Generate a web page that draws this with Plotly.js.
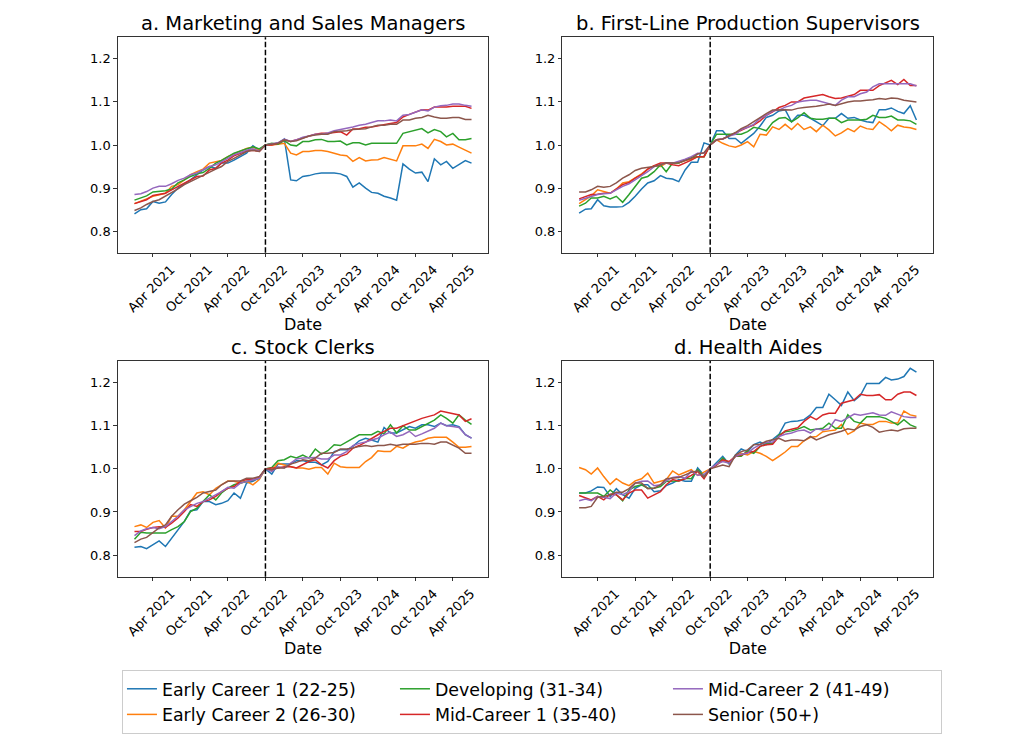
<!DOCTYPE html>
<html>
<head>
<meta charset="utf-8">
<script src="https://cdn.plot.ly/plotly-3.0.1.min.js"></script>
<style>html,body{margin:0;padding:0;background:#fff;}#chart{width:1024px;height:744px;}</style>
</head>
<body>
<div id="chart"></div>
<script>
const months = ['2021-01-01','2021-02-01','2021-03-01','2021-04-01','2021-05-01','2021-06-01','2021-07-01','2021-08-01','2021-09-01','2021-10-01','2021-11-01','2021-12-01',
'2022-01-01','2022-02-01','2022-03-01','2022-04-01','2022-05-01','2022-06-01','2022-07-01','2022-08-01','2022-09-01','2022-10-01','2022-11-01','2022-12-01',
'2023-01-01','2023-02-01','2023-03-01','2023-04-01','2023-05-01','2023-06-01','2023-07-01','2023-08-01','2023-09-01','2023-10-01','2023-11-01','2023-12-01',
'2024-01-01','2024-02-01','2024-03-01','2024-04-01','2024-05-01','2024-06-01','2024-07-01','2024-08-01','2024-09-01','2024-10-01','2024-11-01','2024-12-01',
'2025-01-01','2025-02-01','2025-03-01','2025-04-01','2025-05-01','2025-06-01','2025-07-01'];

const groupNames = ['Early Career 1 (22-25)','Early Career 2 (26-30)','Developing (31-34)','Mid-Career 1 (35-40)','Mid-Career 2 (41-49)','Senior (50+)'];
const panelTitles = ['a. Marketing and Sales Managers','b. First-Line Production Supervisors','c. Stock Clerks','d. Health Aides'];
const tickVals = ['2021-04-01','2021-10-01','2022-04-01','2022-10-01','2023-04-01','2023-10-01','2024-04-01','2024-10-01','2025-04-01'];
const tickText = ['Apr 2021','Oct 2021','Apr 2022','Oct 2022','Apr 2023','Oct 2023','Apr 2024','Oct 2024','Apr 2025'];
const yTicks = [0.8, 0.9, 1.0, 1.1, 1.2];
const cutoffDate = '2022-10-01';

// a. Marketing and Sales Managers
const mkt_ec1 = [0.840,0.850,0.852,0.869,0.865,0.868,0.885,0.900,0.910,0.919,0.931,0.942,0.950,0.946,0.959,0.958,0.965,0.973,0.981,0.998,0.988,1.000,1.002,1.004,1.014,0.919,0.917,0.927,0.929,0.933,0.935,0.935,0.935,0.933,0.927,0.902,0.912,0.900,0.890,0.888,0.881,0.877,0.872,0.956,0.944,0.935,0.937,0.915,0.968,0.954,0.962,0.946,0.954,0.964,0.958];
const mkt_ec2 = [0.864,0.869,0.875,0.881,0.885,0.888,0.904,0.908,0.919,0.931,0.938,0.944,0.958,0.962,0.964,0.973,0.979,0.985,0.992,0.995,0.988,1.000,1.000,1.002,1.004,0.981,0.977,0.985,0.985,0.987,0.987,0.985,0.981,0.977,0.975,0.962,0.971,0.963,0.965,0.966,0.971,0.966,0.963,0.998,0.998,0.998,1.002,0.992,1.013,1.008,1.000,1.002,0.995,0.987,0.981];
const mkt_dev = [0.872,0.877,0.882,0.891,0.892,0.894,0.898,0.912,0.919,0.927,0.933,0.936,0.946,0.958,0.964,0.973,0.981,0.986,0.991,0.996,0.991,1.000,1.004,1.002,1.010,1.000,0.998,1.008,1.008,1.012,1.013,1.008,1.008,1.009,1.000,1.005,1.005,1.000,1.004,1.004,1.005,1.004,1.004,1.027,1.031,1.035,1.038,1.028,1.036,1.031,1.019,1.027,1.012,1.012,1.015];
const mkt_mc1 = [0.864,0.869,0.873,0.883,0.885,0.888,0.896,0.904,0.912,0.919,0.927,0.928,0.942,0.946,0.958,0.965,0.975,0.981,0.986,0.988,0.985,1.000,1.000,1.004,1.012,1.008,1.012,1.015,1.021,1.025,1.027,1.027,1.029,1.031,1.023,1.037,1.038,1.041,1.042,1.045,1.048,1.050,1.052,1.065,1.071,1.077,1.082,1.081,1.088,1.088,1.088,1.090,1.090,1.090,1.085];
const mkt_mc2 = [0.885,0.887,0.892,0.900,0.904,0.904,0.910,0.918,0.923,0.931,0.935,0.942,0.950,0.954,0.962,0.969,0.977,0.983,0.988,0.991,0.986,1.000,1.002,1.005,1.014,1.008,1.012,1.018,1.021,1.025,1.025,1.028,1.033,1.036,1.038,1.042,1.046,1.048,1.052,1.056,1.056,1.058,1.056,1.069,1.071,1.077,1.082,1.079,1.088,1.091,1.092,1.095,1.095,1.092,1.090];
const mkt_sen = [0.848,0.854,0.862,0.869,0.873,0.881,0.888,0.898,0.908,0.915,0.923,0.931,0.938,0.944,0.950,0.962,0.969,0.977,0.985,0.988,0.985,1.000,1.002,1.004,1.012,1.008,1.010,1.015,1.021,1.023,1.025,1.025,1.031,1.032,1.033,1.036,1.037,1.038,1.042,1.046,1.046,1.048,1.048,1.058,1.058,1.062,1.064,1.069,1.065,1.062,1.062,1.064,1.064,1.059,1.059];

// b. First-Line Production Supervisors
const sup_ec1 = [0.842,0.851,0.852,0.873,0.859,0.856,0.856,0.857,0.867,0.881,0.898,0.912,0.917,0.929,0.923,0.921,0.915,0.942,0.960,0.960,1.005,1.000,1.033,1.033,1.015,1.015,1.004,1.015,1.027,1.044,1.064,1.069,1.079,1.082,1.054,1.069,1.069,1.062,1.054,1.045,1.062,1.062,1.073,1.062,1.064,1.058,1.054,1.052,1.082,1.082,1.086,1.078,1.073,1.091,1.058];
const sup_ec2 = [0.864,0.873,0.882,0.896,0.892,0.888,0.898,0.912,0.915,0.923,0.933,0.944,0.952,0.950,0.958,0.958,0.959,0.964,0.967,0.973,0.973,1.000,1.012,1.004,0.998,0.995,1.000,1.008,0.996,1.025,1.023,1.042,1.036,1.048,1.036,1.050,1.036,1.042,1.031,1.046,1.035,1.021,1.028,1.038,1.031,1.044,1.038,1.036,1.054,1.044,1.033,1.046,1.042,1.040,1.036];
const sup_dev = [0.858,0.865,0.877,0.877,0.881,0.875,0.881,0.867,0.885,0.904,0.923,0.927,0.938,0.954,0.938,0.958,0.958,0.965,0.971,0.973,0.973,1.000,1.025,1.025,1.025,1.025,1.025,1.031,1.041,1.038,1.033,1.052,1.062,1.064,1.054,1.063,1.075,1.062,1.060,1.060,1.062,1.062,1.052,1.058,1.058,1.058,1.060,1.069,1.064,1.064,1.067,1.058,1.058,1.056,1.048];
const sup_mc1 = [0.875,0.881,0.885,0.886,0.888,0.888,0.898,0.908,0.913,0.923,0.931,0.944,0.952,0.958,0.958,0.954,0.952,0.958,0.965,0.973,0.973,1.000,1.012,1.014,1.021,1.027,1.035,1.041,1.046,1.056,1.069,1.077,1.087,1.092,1.100,1.100,1.109,1.112,1.114,1.117,1.112,1.108,1.109,1.113,1.117,1.127,1.127,1.127,1.138,1.145,1.150,1.140,1.152,1.138,1.138];
const sup_mc2 = [0.872,0.877,0.881,0.885,0.887,0.888,0.896,0.904,0.910,0.919,0.927,0.938,0.950,0.954,0.958,0.958,0.962,0.967,0.973,0.981,0.981,1.000,1.012,1.014,1.021,1.025,1.036,1.041,1.048,1.062,1.069,1.079,1.081,1.088,1.092,1.100,1.102,1.104,1.104,1.100,1.096,1.092,1.104,1.112,1.112,1.119,1.123,1.135,1.142,1.142,1.142,1.142,1.142,1.142,1.137];
const sup_sen = [0.891,0.891,0.896,0.904,0.902,0.904,0.912,0.923,0.931,0.941,0.946,0.948,0.950,0.954,0.959,0.958,0.959,0.964,0.969,0.979,0.982,1.000,1.012,1.014,1.021,1.029,1.038,1.045,1.054,1.064,1.073,1.081,1.082,1.082,1.081,1.085,1.087,1.088,1.090,1.092,1.095,1.092,1.096,1.100,1.102,1.102,1.104,1.105,1.108,1.106,1.109,1.108,1.104,1.102,1.100];

// c. Stock Clerks
const clk_ec1 = [0.818,0.820,0.815,0.824,0.833,0.820,0.839,0.859,0.878,0.903,0.905,0.924,0.924,0.917,0.920,0.926,0.944,0.932,0.967,0.971,0.979,1.000,0.988,1.011,1.011,1.011,1.019,1.019,1.015,1.015,1.009,1.017,1.040,1.044,1.044,1.052,1.065,1.071,1.067,1.062,1.096,1.083,1.083,1.090,1.098,1.094,1.102,1.102,1.098,1.106,1.100,1.102,1.098,1.079,1.071];
const clk_ec2 = [0.866,0.870,0.864,0.876,0.880,0.863,0.890,0.890,0.905,0.924,0.944,0.947,0.940,0.955,0.963,0.972,0.971,0.967,0.971,0.963,0.975,1.000,0.996,1.013,1.009,1.005,1.002,1.002,0.999,1.003,1.003,0.988,1.013,1.005,1.003,1.003,1.003,1.017,1.026,1.042,1.040,1.040,1.052,1.048,1.057,1.062,1.065,1.071,1.073,1.073,1.073,1.062,1.050,1.050,1.052];
const clk_dev = [0.837,0.853,0.851,0.851,0.851,0.851,0.859,0.866,0.878,0.901,0.909,0.924,0.940,0.928,0.944,0.955,0.963,0.967,0.971,0.975,0.978,1.000,1.003,1.019,1.021,1.029,1.025,1.032,1.025,1.046,1.034,1.042,1.056,1.054,1.062,1.071,1.079,1.079,1.079,1.087,1.081,1.102,1.083,1.100,1.090,1.090,1.098,1.106,1.113,1.125,1.117,1.106,1.125,1.113,1.103];
const clk_mc1 = [0.855,0.855,0.860,0.864,0.866,0.864,0.874,0.886,0.901,0.917,0.913,0.924,0.928,0.936,0.947,0.955,0.959,0.971,0.975,0.975,0.980,1.000,1.002,1.002,1.005,1.005,1.002,1.009,1.017,1.021,1.009,1.002,1.019,1.029,1.034,1.048,1.054,1.062,1.071,1.079,1.087,1.094,1.094,1.100,1.106,1.110,1.117,1.121,1.125,1.134,1.131,1.129,1.125,1.110,1.116];
const clk_mc2 = [0.845,0.856,0.861,0.864,0.861,0.866,0.878,0.890,0.905,0.913,0.920,0.924,0.932,0.940,0.947,0.957,0.955,0.967,0.971,0.975,0.978,1.000,0.994,1.005,1.002,1.013,1.023,1.025,1.025,1.026,1.023,1.023,1.032,1.032,1.040,1.054,1.059,1.062,1.067,1.071,1.079,1.085,1.075,1.079,1.087,1.075,1.081,1.087,1.094,1.106,1.100,1.098,1.096,1.079,1.071];
const clk_sen = [0.829,0.837,0.841,0.853,0.863,0.870,0.890,0.905,0.918,0.926,0.934,0.944,0.947,0.951,0.963,0.971,0.972,0.972,0.978,0.978,0.982,1.000,0.998,1.002,1.002,1.011,1.015,1.021,1.019,1.025,1.036,1.036,1.038,1.046,1.046,1.048,1.052,1.054,1.052,1.054,1.054,1.057,1.054,1.057,1.057,1.057,1.059,1.059,1.057,1.062,1.062,1.055,1.048,1.036,1.036];

// d. Health Aides
const aid_ec1 = [0.944,0.944,0.949,0.958,0.957,0.936,0.954,0.940,0.932,0.955,0.963,0.963,0.947,0.949,0.961,0.967,0.975,0.971,0.971,1.002,0.985,1.000,1.013,1.029,1.011,1.032,1.046,1.040,1.056,1.062,1.056,1.067,1.080,1.106,1.110,1.111,1.114,1.125,1.142,1.142,1.173,1.160,1.147,1.178,1.158,1.170,1.198,1.198,1.198,1.212,1.206,1.208,1.214,1.233,1.224];
const aid_ec2 = [1.003,0.998,0.988,1.002,0.982,0.964,0.977,0.967,0.961,0.972,0.977,0.990,0.967,0.972,0.975,0.995,0.986,0.992,0.998,0.985,0.992,1.000,1.009,1.019,1.015,1.029,1.036,1.032,1.040,1.036,1.029,1.019,1.029,1.039,1.052,1.052,1.065,1.073,1.075,1.086,1.088,1.090,1.103,1.080,1.088,1.106,1.103,1.103,1.110,1.110,1.106,1.106,1.134,1.125,1.122];
const aid_dev = [0.944,0.944,0.944,0.944,0.936,0.951,0.940,0.926,0.951,0.959,0.963,0.955,0.955,0.959,0.971,0.971,0.972,0.978,0.977,0.998,0.982,1.000,1.009,1.025,1.013,1.029,1.029,1.042,1.036,1.052,1.059,1.059,1.079,1.086,1.088,1.092,1.098,1.090,1.092,1.094,1.106,1.094,1.094,1.125,1.110,1.106,1.121,1.121,1.121,1.117,1.110,1.102,1.114,1.102,1.096];
const aid_mc1 = [0.938,0.932,0.928,0.936,0.928,0.941,0.940,0.928,0.944,0.951,0.951,0.932,0.940,0.947,0.963,0.975,0.972,0.977,0.985,0.994,0.977,1.000,1.009,1.021,1.017,1.029,1.032,1.038,1.040,1.052,1.056,1.057,1.075,1.088,1.092,1.095,1.110,1.121,1.114,1.125,1.129,1.129,1.152,1.156,1.160,1.173,1.170,1.170,1.172,1.160,1.160,1.173,1.178,1.178,1.170];
const aid_mc2 = [0.926,0.930,0.926,0.936,0.934,0.931,0.944,0.940,0.947,0.967,0.971,0.972,0.961,0.963,0.972,0.980,0.982,0.978,0.995,0.985,0.986,1.000,1.011,1.017,1.013,1.029,1.034,1.036,1.048,1.056,1.061,1.062,1.075,1.080,1.083,1.088,1.090,1.083,1.093,1.090,1.093,1.114,1.110,1.118,1.127,1.124,1.127,1.130,1.125,1.124,1.132,1.127,1.121,1.119,1.119];
const aid_sen = [0.910,0.910,0.913,0.934,0.936,0.940,0.946,0.946,0.954,0.967,0.967,0.954,0.955,0.963,0.977,0.978,0.980,0.986,0.992,0.995,0.980,1.000,1.005,1.009,1.005,1.032,1.040,1.044,1.056,1.057,1.064,1.067,1.071,1.064,1.067,1.067,1.065,1.075,1.067,1.073,1.079,1.083,1.087,1.093,1.090,1.098,1.102,1.096,1.085,1.088,1.090,1.088,1.093,1.094,1.094];

const panels = [
  [mkt_ec1, mkt_ec2, mkt_dev, mkt_mc1, mkt_mc2, mkt_sen],
  [sup_ec1, sup_ec2, sup_dev, sup_mc1, sup_mc2, sup_sen],
  [clk_ec1, clk_ec2, clk_dev, clk_mc1, clk_mc2, clk_sen],
  [aid_ec1, aid_ec2, aid_dev, aid_mc1, aid_mc2, aid_sen]
];

const colors = ['#1f77b4','#ff7f0e','#2ca02c','#d62728','#9467bd','#8c564b'];
const legendRanks = [1, 4, 2, 5, 3, 6];
const FONT = 'DejaVu Sans, Verdana, sans-serif';

const xDomains = [[0.1149, 0.4769], [0.5491, 0.9114], [0.1149, 0.4769], [0.5491, 0.9114]];
const yDomains = [[0.6603, 0.9499], [0.6603, 0.9499], [0.2249, 0.5148], [0.2249, 0.5148]];

const traces = [];
panels.forEach((series, p) => {
  const ax = p === 0 ? '' : String(p + 1);
  series.forEach((vals, s) => {
    traces.push({
      type: 'scatter', mode: 'lines',
      x: months, y: vals,
      xaxis: 'x' + ax, yaxis: 'y' + ax,
      name: groupNames[s],
      legendgroup: groupNames[s],
      showlegend: p === 0,
      legendrank: legendRanks[s],
      line: {color: colors[s], width: 1.5},
      hoverinfo: 'skip'
    });
  });
});

const layout = {
  width: 1024, height: 744, autosize: false,
  margin: {l: 0, r: 0, t: 0, b: 0},
  paper_bgcolor: '#ffffff', plot_bgcolor: '#ffffff',
  font: {family: FONT, color: '#000000', size: 13},
  showlegend: true,
  legend: {
    orientation: 'h', x: 0.1191, y: 0.0995, xanchor: 'left', yanchor: 'top',
    font: {family: FONT, size: 17.4, color: '#000000'},
    bordercolor: '#cccccc', borderwidth: 1, bgcolor: '#ffffff',
    entrywidth: 228, entrywidthmode: 'pixels', tracegroupgap: 0
  },
  shapes: [], annotations: []
};

panels.forEach((series, p) => {
  const ax = p === 0 ? '' : String(p + 1);
  layout['xaxis' + ax] = {
    domain: xDomains[p], anchor: 'y' + ax, type: 'date',
    range: ['2020-10-11', '2025-09-21'],
    tickmode: 'array', tickvals: tickVals, ticktext: tickText,
    tickangle: -45, ticks: 'outside', ticklen: 3.5, tickwidth: 0.8, tickcolor: '#000',
    tickfont: {family: FONT, size: 13, color: '#000'},
    ticklabelshift: 18,
    showline: true, linecolor: '#000', linewidth: 0.8, mirror: true,
    showgrid: false, zeroline: false, automargin: false,
    title: {text: 'Date', font: {family: FONT, size: 16, color: '#000'}, standoff: 4}
  };
  layout['yaxis' + ax] = {
    domain: yDomains[p], anchor: 'x' + ax,
    range: [0.75, 1.25],
    tickmode: 'array', tickvals: yTicks, tickformat: '.1f',
    ticks: 'outside', ticklen: 3.5, tickwidth: 0.8, tickcolor: '#000',
    tickfont: {family: FONT, size: 13, color: '#000'},
    showline: true, linecolor: '#000', linewidth: 0.8, mirror: true,
    showgrid: false, zeroline: false, automargin: false
  };
  layout.shapes.push({
    type: 'line', xref: 'x' + ax, yref: 'y' + ax + ' domain',
    x0: cutoffDate, x1: cutoffDate, y0: 0, y1: 1,
    line: {color: '#000', width: 1.5, dash: '5.5px,2.4px'}
  });
  layout.annotations.push({
    text: panelTitles[p], xref: 'paper', yref: 'paper',
    x: (xDomains[p][0] + xDomains[p][1]) / 2, y: yDomains[p][1],
    xanchor: 'center', yanchor: 'bottom', showarrow: false, yshift: 0,
    font: {family: FONT, size: 19.5, color: '#000'}
  });
});

Plotly.newPlot('chart', traces, layout, {displayModeBar: false, staticPlot: true});
</script>
</body>
</html>
